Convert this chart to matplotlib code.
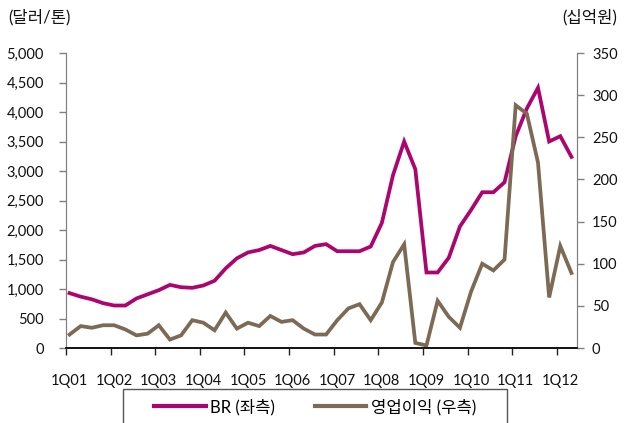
import matplotlib
matplotlib.use("Agg")
import matplotlib.pyplot as plt
from matplotlib.patches import Rectangle
from matplotlib.lines import Line2D

plt.rcParams['font.family'] = ['Lato', 'Noto Sans CJK KR', 'DejaVu Sans']

# Quarterly series, 1Q01 - 2Q12
br_price = [930, 870, 825, 760, 720, 720, 840, 910, 980, 1070, 1030, 1020,
            1060, 1140, 1350, 1520, 1620, 1660, 1730, 1660, 1590, 1620, 1730, 1760,
            1640, 1640, 1640, 1720, 2120, 2930, 3500, 3030, 1280, 1280, 1530, 2060,
            2340, 2640, 2640, 2810, 3590, 4060, 4410, 3500, 3590, 3240]
op_profit = [16, 26, 24, 27, 27, 22, 15, 17, 27, 10, 15, 33,
             30, 21, 42, 23, 30, 26, 38, 31, 33, 23, 16, 16,
             33, 47, 52, 33, 54, 102, 123, 6, 3, 56, 37, 24,
             67, 100, 92, 105, 288, 278, 220, 60, 121, 89]
year_labels = ['1Q01', '1Q02', '1Q03', '1Q04', '1Q05', '1Q06',
               '1Q07', '1Q08', '1Q09', '1Q10', '1Q11', '1Q12']
left_ticks = [0, 500, 1000, 1500, 2000, 2500, 3000, 3500, 4000, 4500, 5000]
right_ticks = [0, 50, 100, 150, 200, 250, 300, 350]

BR_COLOR = '#AC0570'
OP_COLOR = '#7C6A55'
NUM_SIZE = 10.5
KOR_SIZE = 12

W, H = 624, 423
fig = plt.figure(figsize=(W / 100, H / 100), dpi=100)
ax = fig.add_axes([66 / W, 1 - 348 / H, (576.7 - 66) / W, (348 - 53) / H])
ax2 = ax.twinx()

x = list(range(len(br_price)))
ax.plot(x, br_price, color=BR_COLOR, lw=2.7, solid_joinstyle='miter', zorder=3)
ax2.plot(x, op_profit, color=OP_COLOR, lw=2.7, solid_joinstyle='miter', zorder=2)

ax.set_xlim(-0.32, 45.47)
ax.set_ylim(0, 5000)
ax2.set_ylim(0, 350)

ax.set_yticks(left_ticks)
ax.set_yticklabels([f'{v:,}' for v in left_ticks])
ax2.set_yticks(right_ticks)
ax2.set_yticklabels([str(v) for v in right_ticks])

# tick marks sit a third of a quarter left of the 1Q points
ax.set_xticks([4 * k for k in range(len(year_labels))])
ax.set_xticklabels(year_labels)
ax.set_xticks([4 * k - 0.32 for k in range(len(year_labels))], minor=True)
ax.tick_params(axis='x', which='major', length=0, pad=19, labelsize=NUM_SIZE, colors='#111111')
ax.tick_params(axis='x', which='minor', length=5, width=1.0, color='#222222', direction='out')
ax.tick_params(axis='y', length=5, width=1.0, color='#808080', labelsize=NUM_SIZE,
               labelcolor='#111111', pad=11)
ax2.tick_params(axis='y', length=5, width=1.0, color='#808080', labelsize=NUM_SIZE,
                labelcolor='#111111', pad=6)

for a in (ax, ax2):
    a.spines['top'].set_visible(False)
    a.spines['left'].set_color('#808080')
    a.spines['right'].set_color('#808080')
    a.spines['bottom'].set_color('#111111')
    a.spines['bottom'].set_linewidth(1.2)
    a.patch.set_visible(False)

fig.text(8 / W, 1 - 17 / H, '(달러/톤)', fontsize=KOR_SIZE, va='center', ha='left', color='#111111')
fig.text(617 / W, 1 - 17 / H, '(십억원)', fontsize=KOR_SIZE, va='center', ha='right', color='#111111')

# legend frame runs past the bottom edge
fig.patches.append(Rectangle((123 / W, -0.05), (507 - 123) / W, 0.05 + (1 - 389 / H),
                             transform=fig.transFigure, fill=False,
                             edgecolor='#555555', lw=1.0))
handles = [Line2D([], [], color=BR_COLOR, lw=3), Line2D([], [], color=OP_COLOR, lw=3)]
fig.legend(handles, ['BR (좌측)', '영업이익 (우측)'], loc='center',
           bbox_to_anchor=(315 / W, 1 - 407 / H), ncol=2, frameon=False,
           fontsize=KOR_SIZE, handlelength=3.1, handletextpad=0.25, columnspacing=2.4)

fig.savefig('out.png', dpi=100)
